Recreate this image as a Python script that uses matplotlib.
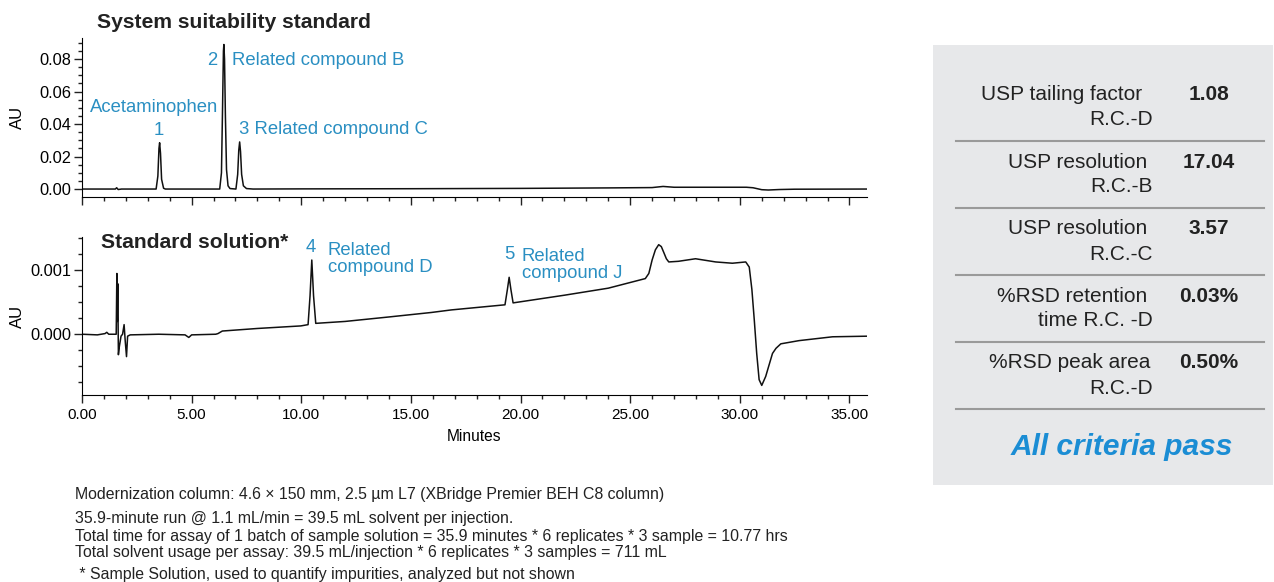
import matplotlib.pyplot as plt
from matplotlib.patches import Rectangle
from matplotlib.lines import Line2D
from matplotlib.ticker import MultipleLocator, FormatStrFormatter

plt.rcParams['font.family'] = ['Liberation Sans', 'DejaVu Sans']

# System suitability standard trace (minutes, AU)
sst_min = [0.0, 1.40, 1.52, 1.58, 1.65, 1.80, 3.38, 3.46, 3.51, 3.54, 3.58, 3.63, 3.72, 3.80,
           6.28, 6.36, 6.41, 6.45, 6.47, 6.50, 6.54, 6.59, 6.66, 6.75, 7.02, 7.10, 7.15, 7.19,
           7.23, 7.28, 7.36, 7.50, 7.80, 10.0, 15.0, 20.0, 24.0, 26.0, 26.5, 27.0, 30.3, 30.6,
           31.0, 31.3, 31.8, 32.5, 35.8]
sst_au = [0.0, 0.0, 0.0, 0.0008, -0.0003, 0.0, 0.0, 0.008, 0.025, 0.0285, 0.022, 0.006, 0.0005, 0.0,
          0.0, 0.010, 0.050, 0.085, 0.089, 0.080, 0.045, 0.012, 0.002, 0.0003, 0.0, 0.009, 0.024, 0.029,
          0.023, 0.009, 0.002, 0.0003, 0.0, 0.0001, 0.0002, 0.0004, 0.0007, 0.0009, 0.0016, 0.0011, 0.0011, 0.0008,
          -0.0004, -0.0006, -0.0003, -0.0001, 0.0]

# Standard solution trace (minutes, AU)
std_min = [0.0, 0.70, 1.05, 1.13, 1.22, 1.40, 1.56, 1.59, 1.61, 1.63, 1.66, 1.70, 1.78, 1.85,
           1.92, 1.97, 2.03, 2.08, 2.20, 3.50, 4.70, 4.87, 5.00, 6.10, 6.20, 6.40, 8.0, 9.98,
           10.31, 10.40, 10.48, 10.56, 10.66, 12.0, 14.0, 15.93, 16.84, 19.29, 19.40, 19.48, 19.56,
           19.66, 22.0, 24.0, 25.69, 25.85, 26.0, 26.15, 26.3, 26.42, 26.53, 26.65, 26.76, 27.2,
           27.98, 28.9, 29.66, 30.27, 30.43, 30.55, 30.66, 30.77, 30.88, 31.0, 31.18, 31.3, 31.49,
           31.65, 31.87, 32.7, 34.23, 35.9]
std_au = [0.0, -0.00001, 0.00001, 0.00003, 0.0, 0.0, 0.0, 0.00095, 0.0002, 0.00079, -0.00032, -0.0002, -0.00003, 0.0,
          0.00015, -0.0001, -0.00035, -0.00003, -0.00001, 0.0, -0.00001, -0.00005, -0.00001, 0.0, 0.00001, 0.00005, 0.00009, 0.00013,
          0.00015, 0.0006, 0.00116, 0.0006, 0.00017, 0.0002, 0.00027, 0.00034, 0.00038, 0.00046, 0.0007, 0.00089, 0.0007,
          0.00049, 0.00061, 0.00072, 0.00087, 0.00095, 0.00116, 0.00132, 0.0014, 0.00137, 0.00128, 0.00118, 0.00113, 0.00114,
          0.00118, 0.00113, 0.00111, 0.00113, 0.00105, 0.0007, 0.00022, -0.0003, -0.00071, -0.0008, -0.00066, -0.00052, -0.0003,
          -0.00022, -0.00015, -0.0001, -0.00004, -0.00003]

metric_names = [("USP tailing factor", "R.C.-D"),
                ("USP resolution", "R.C.-B"),
                ("USP resolution", "R.C.-C"),
                ("%RSD retention", "time R.C. -D"),
                ("%RSD peak area", "R.C.-D")]
metric_values = ["1.08", "17.04", "3.57", "0.03%", "0.50%"]

notes = ["Modernization column: 4.6 \u00d7 150 mm, 2.5 \u00b5m L7 (XBridge Premier BEH C8 column)",
         "35.9-minute run @ 1.1 mL/min = 39.5 mL solvent per injection.",
         "Total time for assay of 1 batch of sample solution = 35.9 minutes * 6 replicates * 3 sample = 10.77 hrs",
         "Total solvent usage per assay: 39.5 mL/injection * 6 replicates * 3 samples = 711 mL",
         " * Sample Solution, used to quantify impurities, analyzed but not shown"]

BLUE = '#2a8fc2'
W, H = 1274, 582
ANN = 13.3

fig = plt.figure(figsize=(12.74, 5.82), dpi=100)

ax1 = fig.add_axes([82 / W, 1 - 197 / H, (867 - 82) / W, (197 - 38) / H])
ax2 = fig.add_axes([82 / W, 1 - 395 / H, (867 - 82) / W, (395 - 237) / H])

for ax in (ax1, ax2):
    ax.spines['top'].set_visible(False)
    ax.spines['right'].set_visible(False)
    ax.set_xlim(0, 35.8)
    ax.xaxis.set_major_locator(MultipleLocator(5))
    ax.xaxis.set_minor_locator(MultipleLocator(1))
    ax.tick_params(which='major', length=6, width=1, labelsize=11, color='#222222')
    ax.tick_params(which='minor', length=3, width=1, color='#222222')
    ax.tick_params(axis='y', labelsize=11.8, pad=1.5)
    ax.set_ylabel("AU", fontsize=12)
    ax.yaxis.set_label_coords(-0.0726, 0.5)

ax1.plot(sst_min, sst_au, color='#111111', lw=1.1)
ax1.set_ylim(-0.0049, 0.093)
ax1.yaxis.set_major_locator(MultipleLocator(0.02))
ax1.yaxis.set_minor_locator(MultipleLocator(0.005))
ax1.yaxis.set_major_formatter(FormatStrFormatter('%.2f'))
ax1.tick_params(axis='x', labelbottom=False)

ax2.plot(std_min, std_au, color='#111111', lw=1.1)
ax2.set_ylim(-0.00095, 0.00152)
ax2.set_yticks([0.0, 0.001])
ax2.yaxis.set_minor_locator(MultipleLocator(0.00025))
ax2.yaxis.set_major_formatter(FormatStrFormatter('%.3f'))
ax2.xaxis.set_major_formatter(FormatStrFormatter('%.2f'))
ax2.set_xlabel("Minutes", fontsize=11.2, labelpad=5)

# peak labels
ax1.text(3.3, 0.0504, "Acetaminophen", color=BLUE, fontsize=ANN, ha='center', va='center')
ax1.text(3.48, 0.0363, "1", color=BLUE, fontsize=ANN, ha='center', va='center')
ax1.text(5.95, 0.079, "2", color=BLUE, fontsize=ANN, ha='center', va='center')
ax1.text(6.82, 0.079, "Related compound B", color=BLUE, fontsize=ANN, ha='left', va='center')
ax1.text(7.14, 0.0369, "3 Related compound C", color=BLUE, fontsize=ANN, ha='left', va='center')

ax2.text(10.43, 0.00135, "4", color=BLUE, fontsize=ANN, ha='center', va='center')
ax2.text(11.2, 0.00118, "Related\ncompound D", color=BLUE, fontsize=ANN, ha='left', va='center',
         linespacing=1.0)
ax2.text(19.5, 0.00124, "5", color=BLUE, fontsize=ANN, ha='center', va='center')
ax2.text(20.05, 0.00108, "Related\ncompound J", color=BLUE, fontsize=ANN, ha='left', va='center',
         linespacing=1.0)

fig.text(97 / W, 1 - 22 / H, "System suitability standard", fontsize=15.2, fontweight='bold',
         color='#222222', ha='left', va='center')
fig.text(101 / W, 1 - 242 / H, "Standard solution*", fontsize=15.2, fontweight='bold',
         color='#222222', ha='left', va='center')

# footnotes
note_y = [494, 519, 536, 553, 575]
for txt, yy in zip(notes, note_y):
    fig.text(75 / W, 1 - yy / H, txt, fontsize=11.4, color='#222222', ha='left', va='center')

# criteria panel
fig.add_artist(Rectangle((933 / W, 1 - 485 / H), (1273 - 933) / W, (485 - 45) / H,
                         transform=fig.transFigure, facecolor='#e7e8ea', edgecolor='none'))
first_right = [1142, 1147, 1147, 1147, 1150]
for i, ((l1, l2), val) in enumerate(zip(metric_names, metric_values)):
    y0 = 95 + 67 * i
    fig.text(first_right[i] / W, 1 - y0 / H, l1, fontsize=15, color='#222222', ha='right', va='center')
    fig.text(1153 / W, 1 - (y0 + 25) / H, l2, fontsize=15, color='#222222', ha='right', va='center')
    fig.text(1209 / W, 1 - y0 / H, val, fontsize=15, fontweight='bold', color='#222222',
             ha='center', va='center')
    ys = 1 - (141 + 67 * i) / H
    fig.add_artist(Line2D([956 / W, 1264 / W], [ys, ys], transform=fig.transFigure,
                          color='#9a9a9a', lw=1.5))
fig.text(1122 / W, 1 - 447 / H, "All criteria pass", fontsize=21.5, fontweight='bold', style='italic',
         color='#1b8dd4', ha='center', va='center')

fig.savefig("out.png", dpi=100)
